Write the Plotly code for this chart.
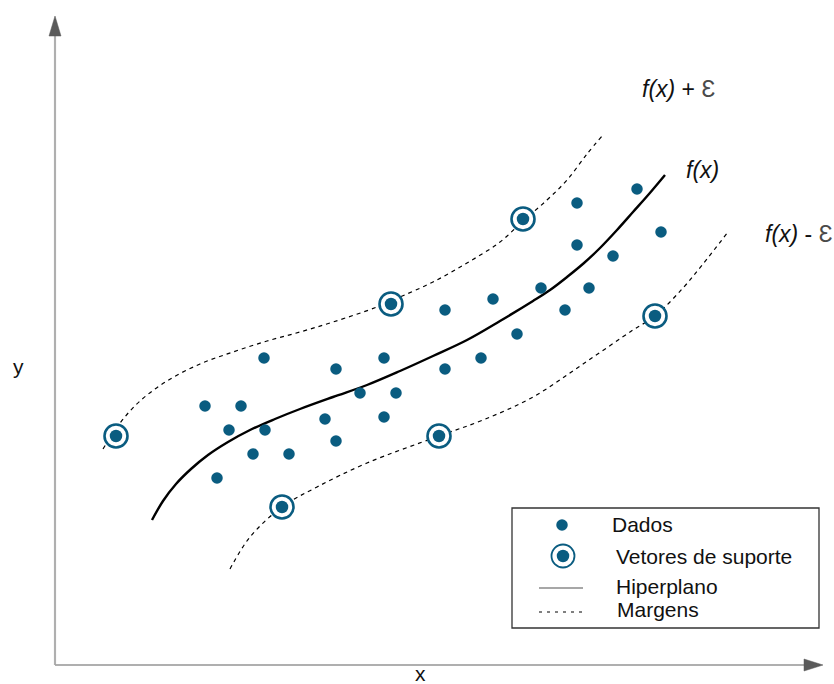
import plotly.graph_objects as go

W, H = 834, 684
BLUE = "#0a5c80"
AX = "#5a5a5a"

def up(v):
    return [H - t for t in v]

# Data points (x, y) in diagram units (y measured upward)
data_x = [577, 637, 661, 577, 613, 493, 541, 589, 445, 565, 517, 481, 445, 384,
          336, 264, 360, 396, 205, 241, 229, 265, 325, 384, 336, 253, 289, 217]
data_y = up([203, 189, 232, 245, 256, 299, 288, 288, 310, 310, 334, 358, 369, 358,
             369, 358, 393, 393, 406, 406, 430, 430, 419, 417, 441, 454, 454, 478])

# Support vectors
sv_x = [523, 391, 655, 116, 439, 282]
sv_y = up([219, 304, 316, 436, 436, 507])

# Regression curve f(x)
fx_x = [152, 163, 176, 191, 208, 228, 250, 275, 300, 333, 367, 400, 433, 467, 500, 533, 550, 567, 584, 600, 617, 633, 649, 665]
fx_y = up([520, 501, 484, 469, 455, 442, 430, 419, 409, 397, 385, 371, 356, 340, 321, 301, 290, 277, 263, 248, 230, 212, 194, 175])

# Upper margin f(x)+eps
up_x = [103, 120, 140, 167, 200, 233, 267, 300, 333, 377, 400, 433, 467, 500, 523, 547, 567, 587, 602]
up_y = up([449, 423, 401, 381, 364, 352, 341, 332, 322, 307, 297, 282, 263, 242, 221, 200, 180, 154, 136])

# Lower margin f(x)-eps
lo_x = [230, 250, 282, 317, 367, 439, 483, 533, 583, 633, 655, 683, 703, 728]
lo_y = up([569, 537, 507, 487, 463, 436, 420, 397, 364, 330, 316, 288, 264, 232])

legend_labels = ["Dados", "Vetores de suporte", "Hiperplano", "Margens"]
EPS = "<span style='color:#4a4a4a;font-size:23px'>Ɛ</span>"
curve_labels = ["<i>f(x)</i> + " + EPS, "<i>f(x)</i>", "<i>f(x)</i> - " + EPS]

fig = go.Figure()

# axes with arrows
ox, oy = 55, H - 665
for col, w in (("#c4c4c4", 2.2), ("#9a9a9a", 1)):
    fig.add_shape(type="line", x0=ox, y0=oy, x1=ox, y1=H - 34, line=dict(color=col, width=w), layer="below")
    fig.add_shape(type="line", x0=ox, y0=oy, x1=806, y1=oy, line=dict(color=col, width=w), layer="below")
fig.add_shape(type="path", path=f"M {ox-6},{H-36} L {ox+6},{H-36} L {ox},{H-16} Z",
              fillcolor=AX, line=dict(color=AX, width=0.5))
fig.add_shape(type="path", path=f"M 804,{oy-6} L 804,{oy+6} L 823,{oy} Z",
              fillcolor=AX, line=dict(color=AX, width=0.5))

common = dict(mode="lines", line_shape="spline", hoverinfo="skip", showlegend=False)
fig.add_trace(go.Scatter(x=up_x, y=up_y, line=dict(color="black", width=1.2, dash="4px,4px", smoothing=1.0), **common))
fig.add_trace(go.Scatter(x=lo_x, y=lo_y, line=dict(color="black", width=1.2, dash="4px,4px", smoothing=1.0), **common))
fig.add_trace(go.Scatter(x=fx_x, y=fx_y, line=dict(color="black", width=2.4, smoothing=1.0), **common))

fig.add_trace(go.Scatter(x=data_x, y=data_y, mode="markers", showlegend=False,
                         marker=dict(color=BLUE, size=11.5, line=dict(width=0))))
fig.add_trace(go.Scatter(x=sv_x, y=sv_y, mode="markers", showlegend=False,
                         marker=dict(color="white", size=23, line=dict(color=BLUE, width=2.6))))
fig.add_trace(go.Scatter(x=sv_x, y=sv_y, mode="markers", showlegend=False,
                         marker=dict(color=BLUE, size=12.5, line=dict(width=0))))

# legend box
fig.add_shape(type="rect", x0=512, y0=H - 628, x1=819, y1=H - 508,
              line=dict(color="#333333", width=1.3), fillcolor="white", layer="below")
fig.add_trace(go.Scatter(x=[562], y=[H - 525], mode="markers", showlegend=False,
                         marker=dict(color=BLUE, size=11.5)))
fig.add_trace(go.Scatter(x=[563], y=[H - 556], mode="markers", showlegend=False,
                         marker=dict(color="white", size=23, line=dict(color=BLUE, width=1.8))))
fig.add_trace(go.Scatter(x=[563], y=[H - 556], mode="markers", showlegend=False,
                         marker=dict(color=BLUE, size=12.5)))
fig.add_shape(type="line", x0=539, x1=583, y0=H - 588, y1=H - 588, line=dict(color="#8a8a8a", width=1.3))
fig.add_shape(type="line", x0=539, x1=583, y0=H - 612, y1=H - 612, line=dict(color="black", width=1, dash="3px,5px"))

leg_pos = [(610, 524), (614, 556), (614, 586), (615, 609)]
for (lx, ly), lab in zip(leg_pos, legend_labels):
    fig.add_annotation(x=lx, y=H - ly, text=lab, showarrow=False, xanchor="left", yanchor="middle",
                       font=dict(family="Liberation Sans", size=21, color="#111111"))

# curve labels
for (lx, ly), lab in zip([(640, 89), (684, 170), (763, 234)], curve_labels):
    fig.add_annotation(x=lx, y=H - ly, text=lab, showarrow=False, xanchor="left", yanchor="middle",
                       font=dict(family="Liberation Sans", size=23, color="#111111"))

fig.add_annotation(x=18, y=H - 366, text="y", showarrow=False, font=dict(family="Liberation Sans", size=21, color="#111111"))
fig.add_annotation(x=420, y=H - 673, text="x", showarrow=False, font=dict(family="Liberation Sans", size=21, color="#111111"))

fig.update_layout(width=W, height=H, margin=dict(l=0, r=0, t=0, b=0),
                  paper_bgcolor="white", plot_bgcolor="white",
                  xaxis=dict(range=[0, W], visible=False, fixedrange=True),
                  yaxis=dict(range=[0, H], visible=False, fixedrange=True),
                  showlegend=False)

fig.write_html("out.html", config={"displayModeBar": False})
